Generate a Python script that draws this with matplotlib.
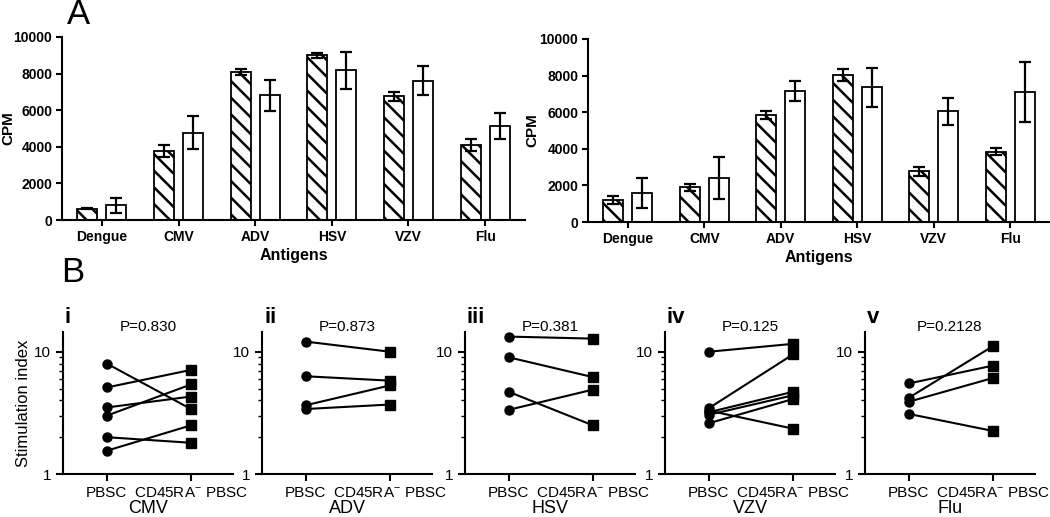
import numpy as np
import matplotlib
matplotlib.use('Agg')
import matplotlib.pyplot as plt
import matplotlib.ticker as ticker

# ── Style ────────────────────────────────────────────────────────────────────
plt.rcParams.update({
    'font.family': ['Liberation Sans', 'DejaVu Sans'],
    'mathtext.fontset': 'custom',
    'mathtext.rm': 'Liberation Sans',
    'mathtext.it': 'Liberation Sans:italic',
    'mathtext.bf': 'Liberation Sans:bold',
    'hatch.linewidth': 1.8,
    'hatch.color': 'black',
    'axes.linewidth': 1.5,
})

# ── Data: panel A (CPM, mean and error) ─────────────────────────────────────
ANTIGENS = ['Dengue', 'CMV', 'ADV', 'HSV', 'VZV', 'Flu']

LEFT_HATCH = [620, 3760, 8070, 9000, 6760, 4090]
LEFT_HATCH_ERR = [40, 330, 165, 145, 255, 320]
LEFT_OPEN = [800, 4760, 6820, 8180, 7600, 5150]
LEFT_OPEN_ERR = [410, 900, 840, 1020, 790, 700]

RIGHT_HATCH = [1200, 1890, 5850, 8040, 2760, 3850]
RIGHT_HATCH_ERR = [210, 210, 230, 320, 270, 180]
RIGHT_OPEN = [1600, 2400, 7160, 7360, 6040, 7130]
RIGHT_OPEN_ERR = [820, 1130, 570, 1080, 730, 1640]

# ── Data: panel B (stimulation index, paired) ───────────────────────────────
PAIR_LABELS = ['PBSC', 'CD45RA$^{-}$ PBSC']
B_NUMERALS = ['i', 'ii', 'iii', 'iv', 'v']
B_VIRUSES = ['CMV', 'ADV', 'HSV', 'VZV', 'Flu']
B_PVALUES = ['P=0.830', 'P=0.873', 'P=0.381', 'P=0.125', 'P=0.2128']

CMV_PBSC = [8.0, 5.1, 3.5, 3.0, 2.0, 1.55]
CMV_CD45 = [3.4, 7.1, 4.3, 5.4, 1.8, 2.5]
ADV_PBSC = [12.1, 6.3, 3.65, 3.4]
ADV_CD45 = [10.0, 5.8, 5.3, 3.7]
HSV_PBSC = [13.3, 9.0, 4.7, 3.35]
HSV_CD45 = [12.8, 6.2, 2.5, 4.9]
VZV_PBSC = [10.0, 3.45, 3.3, 3.2, 3.05, 2.6]
VZV_CD45 = [11.6, 9.5, 2.35, 4.7, 4.4, 4.1]
FLU_PBSC = [5.5, 4.2, 3.9, 3.1]
FLU_CD45 = [7.7, 11.1, 6.1, 2.25]

B_PAIRS = [(CMV_PBSC, CMV_CD45), (ADV_PBSC, ADV_CD45), (HSV_PBSC, HSV_CD45),
           (VZV_PBSC, VZV_CD45), (FLU_PBSC, FLU_CD45)]

W, H = 1050, 517


def px_axes(fig, x0, y_top, x1, y_bot):
    return fig.add_axes([x0 / W, 1 - y_bot / H, (x1 - x0) / W, (y_bot - y_top) / H])


def bar_panel(ax, hatch_vals, hatch_err, open_vals, open_err, label_x):
    x = np.arange(len(ANTIGENS))
    off, bw = 0.19, 0.26
    ax.bar(x - off, hatch_vals, bw, color='white', edgecolor='black',
           hatch='\\\\', linewidth=1.3, zorder=2)
    ax.bar(x + off, open_vals, bw, color='white', edgecolor='black',
           linewidth=1.3, zorder=2)
    ekw = dict(fmt='none', ecolor='black', elinewidth=1.6, capsize=4, capthick=1.6, zorder=3)
    ax.errorbar(x - off, hatch_vals, yerr=hatch_err, **ekw)
    ax.errorbar(x + off, open_vals, yerr=open_err, **ekw)

    ax.set_xlim(-0.52, 5.52)
    ax.set_ylim(0, 10000)
    ax.set_yticks([0, 2000, 4000, 6000, 8000, 10000])
    ax.set_yticklabels(['0', '2000', '4000', '6000', '8000', '10000'], fontweight='bold', fontsize=10)
    ax.set_xticks(x)
    ax.set_xticklabels(ANTIGENS, fontweight='bold', fontsize=10)
    ax.tick_params(direction='out', length=4, width=1.5, pad=3)
    for s in ['top', 'right']:
        ax.spines[s].set_visible(False)
    ax.set_xlabel('Antigens', fontweight='bold', fontsize=11.5, labelpad=3)
    ax.set_ylabel('CPM', fontweight='bold', fontsize=11)
    ax.yaxis.set_label_coords(label_x, 0.5)


def pair_panel(ax, pbsc, cd45, virus, show_ylabel):
    for a, b in zip(pbsc, cd45):
        ax.plot([0, 1], [a, b], color='black', linewidth=1.5, zorder=2)
    ax.plot(np.zeros(len(pbsc)), pbsc, 'o', color='black', markersize=6.5, zorder=3)
    ax.plot(np.ones(len(cd45)), cd45, 's', color='black', markersize=6.5, zorder=3)

    ax.set_yscale('log')
    ax.set_ylim(1, 14.5)
    ax.set_xlim(-0.52, 1.5)
    ax.yaxis.set_major_locator(ticker.FixedLocator([1, 10]))
    ax.yaxis.set_major_formatter(ticker.FixedFormatter(['1', '10']))
    ax.yaxis.set_minor_locator(ticker.LogLocator(base=10, subs=np.arange(2, 10), numticks=10))
    ax.yaxis.set_minor_formatter(ticker.NullFormatter())
    ax.set_xticks([0, 1])
    ax.set_xticklabels(PAIR_LABELS, fontsize=11)
    ax.tick_params(axis='both', which='major', direction='out', length=5, width=1.5, labelsize=11)
    ax.tick_params(axis='y', which='minor', direction='out', length=3, width=1.0)
    for s in ['top', 'right']:
        ax.spines[s].set_visible(False)
    ax.set_xlabel(virus, fontsize=13, labelpad=0)
    if show_ylabel:
        ax.set_ylabel('Stimulation index', fontsize=12, labelpad=2)


fig = plt.figure(figsize=(W / 100, H / 100), dpi=100)

# ── Panel A ─────────────────────────────────────────────────────────────────
ax_l = px_axes(fig, 62, 37, 525, 220)
bar_panel(ax_l, LEFT_HATCH, LEFT_HATCH_ERR, LEFT_OPEN, LEFT_OPEN_ERR, (15 - 62) / 463)
ax_r = px_axes(fig, 588, 39, 1050, 222)
bar_panel(ax_r, RIGHT_HATCH, RIGHT_HATCH_ERR, RIGHT_OPEN, RIGHT_OPEN_ERR, (539 - 588) / 462)

fig.text(67 / W, 1 - 24 / H, 'A', fontsize=25, va='baseline', ha='left')
fig.text(61 / W, 1 - 282 / H, 'B', fontsize=25, va='baseline', ha='left')

# ── Panel B ─────────────────────────────────────────────────────────────────
b_lefts = [63, 262, 465, 665, 865]
for i, (x0, (pb, cd)) in enumerate(zip(b_lefts, B_PAIRS)):
    ax = px_axes(fig, x0, 332, x0 + 170, 474)
    pair_panel(ax, pb, cd, B_VIRUSES[i], i == 0)
    fig.text((x0 + 2) / W, 1 - 323 / H, B_NUMERALS[i], fontsize=16,
             fontweight='bold', va='baseline', ha='left')
    fig.text((x0 + 85) / W, 1 - 331 / H, B_PVALUES[i], fontsize=11,
             va='baseline', ha='center')

fig.savefig('out.png', dpi=100)
